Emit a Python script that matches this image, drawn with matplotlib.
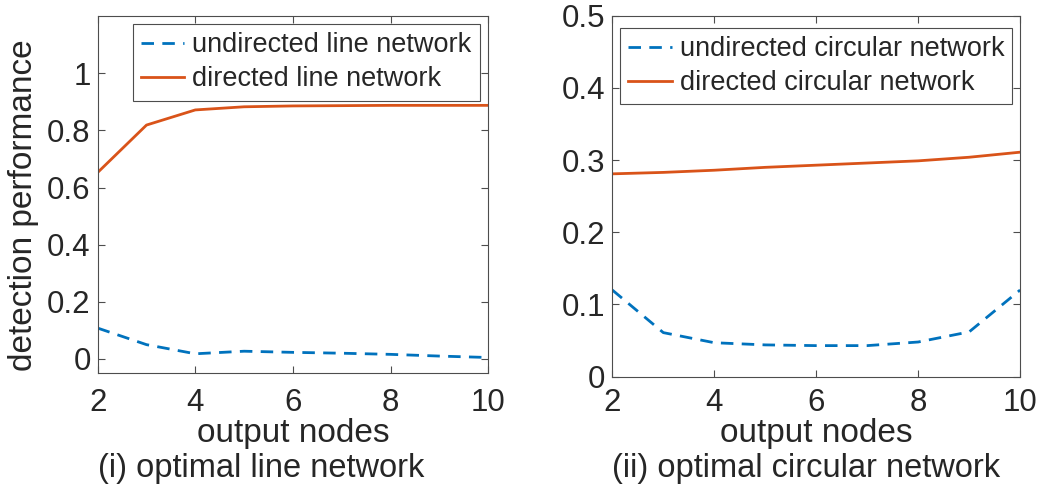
import matplotlib
matplotlib.use('Agg')
import matplotlib.pyplot as plt

# values
nodes = [2, 3, 4, 5, 6, 7, 8, 9, 10]

line_undirected = [0.108, 0.050, 0.018, 0.027, 0.023, 0.020, 0.016, 0.010, 0.005]
line_directed = [0.653, 0.819, 0.872, 0.883, 0.886, 0.887, 0.888, 0.888, 0.888]

circ_undirected = [0.120, 0.061, 0.047, 0.044, 0.043, 0.043, 0.048, 0.062, 0.120]
circ_directed = [0.281, 0.283, 0.286, 0.290, 0.293, 0.296, 0.299, 0.304, 0.311]

xticks = [2, 4, 6, 8, 10]
left_yticks = [0, 0.2, 0.4, 0.6, 0.8, 1]
right_yticks = [0, 0.1, 0.2, 0.3, 0.4, 0.5]

blue = '#0072BD'
orange = '#D95319'
txt = '#262626'

plt.rcParams['font.family'] = ['Liberation Sans', 'DejaVu Sans']
plt.rcParams['axes.edgecolor'] = '#4d4d4d'
plt.rcParams['axes.linewidth'] = 0.8

fig = plt.figure(figsize=(10.37, 4.93), dpi=100)
ax1 = fig.add_axes([0.0942, 0.243, 0.3765, 0.724])
ax2 = fig.add_axes([0.5905, 0.236, 0.3932, 0.732])


def style(ax, yticks, ylim, xpad):
    ax.set_xlim(2, 10)
    ax.set_ylim(*ylim)
    ax.set_xticks(xticks)
    ax.set_yticks(yticks)
    ax.set_yticklabels([f'{t:g}' for t in yticks])
    ax.tick_params(direction='in', top=True, right=True, length=5, width=0.8,
                   labelsize=22.5, colors='#4d4d4d', labelcolor=txt)
    ax.tick_params(axis='x', pad=xpad)
    ax.tick_params(axis='y', pad=5)
    ax.set_xlabel('output nodes', fontsize=24, color=txt, labelpad=0)


ax1.plot(nodes, line_undirected, color=blue, lw=2, dashes=(4.5, 3), label='undirected line network')
ax1.plot(nodes, line_directed, color=orange, lw=2, label='directed line network')
style(ax1, left_yticks, (-0.05, 1.2), 11)
ax1.set_ylabel('detection performance', fontsize=24, color=txt)
ax1.yaxis.set_label_coords(-0.15, 0.47)

ax2.plot(nodes, circ_undirected, color=blue, lw=2, dashes=(4.5, 3), label='undirected circular network')
ax2.plot(nodes, circ_directed, color=orange, lw=2, label='directed circular network')
style(ax2, right_yticks, (0, 0.5), 8)

for ax, anchor in [(ax1, (0.128, 0.951)), (ax2, (0.598, 0.943))]:
    leg = ax.legend(loc='upper left', bbox_to_anchor=anchor, bbox_transform=fig.transFigure,
                    fontsize=19.5, handlelength=1.6, handletextpad=0.3, borderpad=0.3,
                    labelspacing=0.3, borderaxespad=0, fancybox=False, framealpha=1)
    leg.get_frame().set_edgecolor('#4d4d4d')
    leg.get_frame().set_linewidth(0.8)
    for t in leg.get_texts():
        t.set_color(txt)

fig.text(261 / 1037, 1 - 468 / 493, '(i) optimal line network', ha='center', va='center',
         fontsize=23.5, color=txt)
fig.text(806 / 1037, 1 - 468 / 493, '(ii) optimal circular network', ha='center', va='center',
         fontsize=23.5, color=txt)

fig.savefig('out.png', dpi=100)
